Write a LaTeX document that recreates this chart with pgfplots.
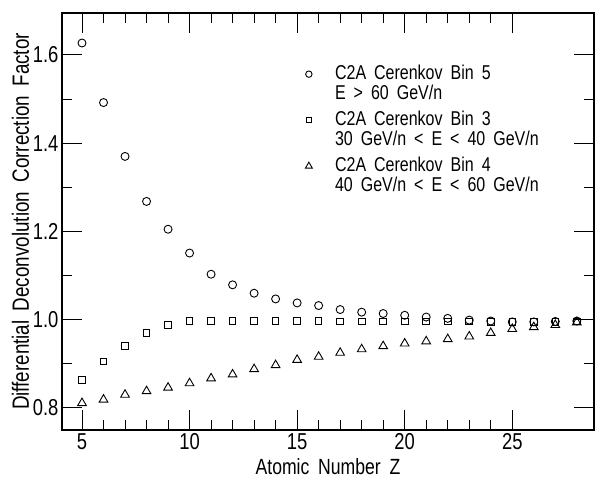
\documentclass[border=0pt]{standalone}
\usepackage{fontspec}
\setmainfont[FakeStretch=0.8,WordSpace=1.8]{Liberation Sans}
\usepackage{pgfplots}
\pgfplotsset{compat=1.18}

\begin{document}
\begin{tikzpicture}
\begin{axis}[
  scale only axis,
  width=532pt, height=417pt,
  xmin=4.07, xmax=28.8,
  ymin=0.75, ymax=1.695,
  xtick={5,10,15,20,25},
  ytick={0.8,1.0,1.2,1.4,1.6},
  minor x tick num=4,
  minor y tick num=1,
  tick align=inside,
  major tick length=20pt,
  minor tick length=10pt,
  every tick/.style={black,line width=1pt},
  axis line style={line width=1.3pt},
  /pgf/number format/assume math mode=true,
  yticklabel style={/pgf/number format/fixed,/pgf/number format/fixed zerofill,/pgf/number format/precision=1},
  tick label style={font=\fontsize{23}{26}\selectfont},
  xlabel={Atomic Number Z},
  ylabel={Differential Deconvolution Correction Factor},
  xlabel style={font=\fontsize{22}{24}\selectfont,yshift=-2pt},
  ylabel style={font=\fontsize{23.5}{26}\selectfont,yshift=-3pt},
  legend style={draw=none,fill=none,at={(0.45,0.885)},anchor=north west,
    font=\fontsize{20}{20}\selectfont,row sep=6pt,
    cells={anchor=west,align=left}},
  legend image code/.code={\draw[#1,mark options={scale=0.8}] plot coordinates {(0.15cm,9pt)};\path[draw=none] (0,0) -- (1.0cm,0);},
  every axis plot/.append style={only marks,black,line width=0.9pt},
]
\addplot[mark=o,mark size=4pt] coordinates {
(5,1.627) (6,1.492) (7,1.370) (8,1.268) (9,1.205) (10,1.151)
(11,1.103) (12,1.079) (13,1.060) (14,1.047) (15,1.038) (16,1.032)
(17,1.023) (18,1.017) (19,1.014) (20,1.010) (21,1.006) (22,1.003)
(23,0.999) (24,0.997) (25,0.995) (26,0.995) (27,0.996) (28,0.997)};
\addlegendentry{C2A Cerenkov Bin 5\\E > 60 GeV/n}
\addplot[mark=square,mark size=3.3pt] coordinates {
(5,0.864) (6,0.905) (7,0.941) (8,0.970) (9,0.988) (10,0.997)
(11,0.997) (12,0.997) (13,0.997) (14,0.997) (15,0.997) (16,0.997)
(17,0.996) (18,0.996) (19,0.996) (20,0.996) (21,0.996) (22,0.996)
(23,0.996) (24,0.995) (25,0.995) (26,0.995) (27,0.995) (28,0.996)};
\addlegendentry{C2A Cerenkov Bin 3\\30 GeV/n < E < 40 GeV/n}
\addplot[mark=triangle,mark size=5pt] coordinates {
(5,0.811) (6,0.819) (7,0.830) (8,0.838) (9,0.846) (10,0.856)
(11,0.867) (12,0.876) (13,0.888) (14,0.897) (15,0.909) (16,0.916)
(17,0.925) (18,0.933) (19,0.940) (20,0.946) (21,0.951) (22,0.956)
(23,0.962) (24,0.970) (25,0.979) (26,0.983) (27,0.988) (28,0.994)};
\addlegendentry{C2A Cerenkov Bin 4\\40 GeV/n < E < 60 GeV/n}
\end{axis}
\pgfresetboundingbox
\useasboundingbox (current axis.south west) ++(-62pt,-55pt) rectangle ++(596pt,485pt);
\end{tikzpicture}
\end{document}
